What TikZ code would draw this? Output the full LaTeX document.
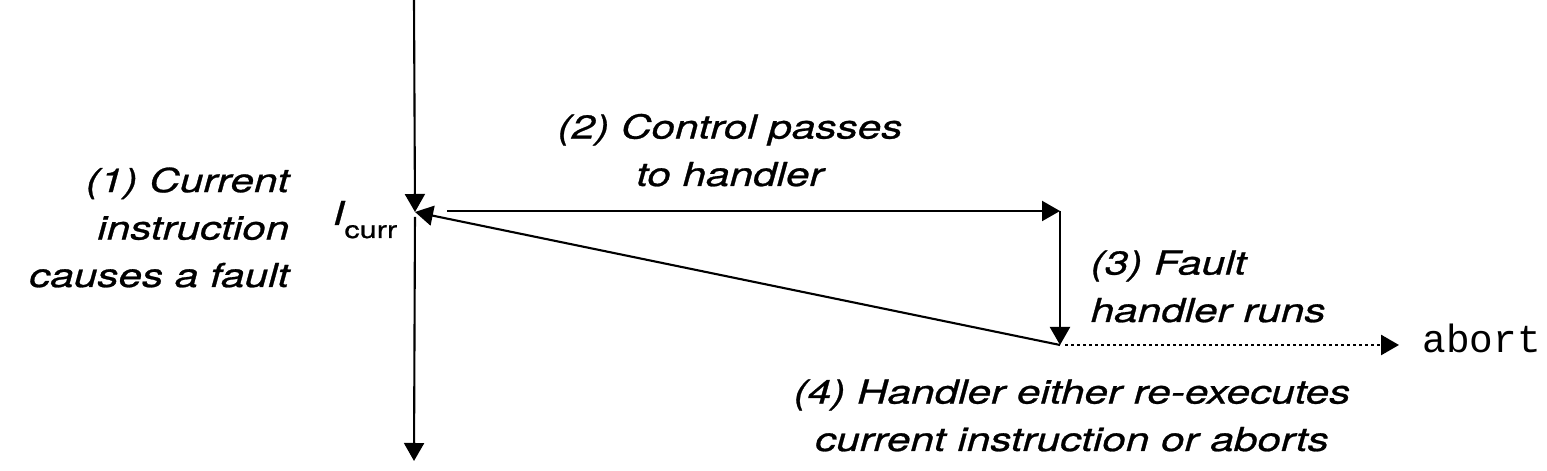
\documentclass[tikz,border=0pt]{standalone}
\usepackage{fontspec}
\setmainfont{TeX Gyre Heros}[FakeStretch=1.28, FakeBold=0.8]
\setmonofont{Liberation Mono}
\usetikzlibrary{arrows.meta, positioning, calc}
\tikzset{
  flow/.style={line width=0.6pt, -{Triangle[length=1.8mm, width=2mm]}, color=black},
  abortflow/.style={flow, line width=0.75pt, dash pattern=on 0.3mm off 0.3mm},
  step label/.style={font=\itshape\fontsize{9.4}{13.5}\selectfont, inner sep=0pt},
  instr/.style={inner sep=0pt, font=\fontsize{9.4}{13.5}\selectfont}
}
\begin{document}
\begin{tikzpicture}
    \useasboundingbox (0,0) rectangle (15.47,4.71);
    % Defining points of the control flow
    \coordinate (top) at (4.14,4.71);
    \coordinate (curr) at (4.15,2.59);
    \coordinate (bottom) at (4.14,0.10);
    \coordinate (handler) at (10.60,2.60);
    \coordinate (handlerend) at (10.60,1.26);

    % Defining nodes
    \node[instr, anchor=base west] (icurr) at (3.32,2.46)
        {{\itshape I}\raisebox{-3.7pt}{\fontsize{6.8}{7}\selectfont curr}};
    \node[anchor=base west, inner sep=0pt, font=\ttfamily\fontsize{11.2}{13}\selectfont]
        (abort) at (14.22,1.18) {abort};
    \node[step label, align=right, anchor=base east] (fault) at (2.90,1.84)
        {(1) Current\\instruction\\causes a fault};
    \node[step label, align=center, anchor=base] (passes) at (7.30,2.85)
        {(2) Control passes\\to handler};
    \node[step label, align=left, anchor=base west] (runs) at (10.90,1.49)
        {(3) Fault\\handler runs};
    \node[step label, align=center, anchor=base] (either) at (10.72,0.20)
        {(4) Handler either re-executes\\current instruction or aborts};

    % Drawing arrows
    \draw[flow] (top) -- (curr);
    \draw[flow, shorten <=0.05cm] (curr) -- (bottom);
    \draw[flow, shorten <=0.32cm] (curr |- handler) -- (handler);
    \draw[flow] (handler) -- (handlerend);
    \draw[flow] (handlerend) -- (curr);
    \draw[abortflow, shorten <=0.05cm, shorten >=0.23cm] (handlerend) -- (abort.west |- handlerend);
\end{tikzpicture}
\end{document}
